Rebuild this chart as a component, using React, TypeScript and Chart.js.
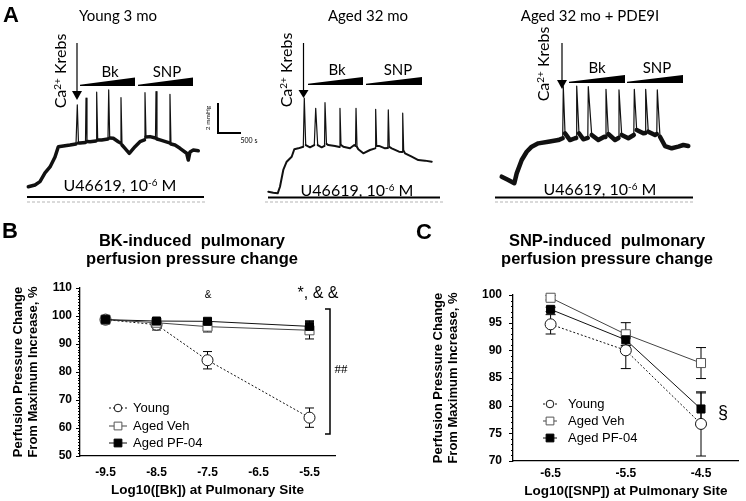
import React, { useEffect, useRef } from "react";
import { Chart, registerables } from "chart.js";

Chart.register(...registerables);

const SANS = "Arial, 'Liberation Sans', Helvetica, sans-serif";
const TRACE_FONT = "Lato, 'Open Sans', sans-serif";

// ---------- Panel A: perfusion pressure traces (time in s, pressure above start in mmHg) ----------
const youngTime = [7, 159, 272, 386, 500, 613, 688, 801, 953, 1090, 1119, 1146, 1180, 1305, 1317, 1339, 1407, 1544, 1559, 1582, 1673, 1816, 1832, 1855, 1936, 2050, 2100, 2111, 2134, 2202, 2300, 2429, 2542, 2644, 2656, 2679, 2769, 2894, 2906, 2928, 2996, 3212, 3223, 3246, 3337, 3450, 3602, 3639, 3678, 3753, 3866];
const youngPressure = [0.35, 0.47, 0.69, 1.27, 1.67, 2.33, 3.02, 3.07, 3.13, 3.2, 5.8, 3.27, 3.27, 3.3, 6.25, 3.37, 3.35, 3.4, 6.65, 3.47, 3.47, 3.53, 6.8, 3.6, 3.58, 3.35, 3.27, 6.29, 3.13, 2.91, 2.58, 3.02, 3.35, 3.47, 6.62, 3.67, 3.69, 3.6, 6.69, 3.53, 3.47, 3.27, 6.51, 3.2, 3.13, 2.91, 2.58, 2.13, 2.67, 2.8, 2.75];

const agedTime = [7, 120, 220, 272, 347, 424, 538, 597, 688, 801, 824, 856, 953, 1051, 1083, 1128, 1219, 1283, 1294, 1328, 1369, 1521, 1623, 1634, 1657, 1709, 1861, 1959, 1987, 1998, 2021, 2050, 2163, 2315, 2433, 2444, 2467, 2520, 2656, 2720, 2731, 2754, 2808, 2974, 3046, 3058, 3080, 3110, 3262, 3412, 3564, 3716];
const agedPressure = [0.22, 0.15, 0.11, 0.55, 1.67, 2.22, 2.55, 3.05, 3.11, 3.22, 6.45, 3.33, 3.18, 3.33, 5.78, 3.33, 3.18, 3.27, 6.15, 3.4, 3.33, 3.27, 3.2, 5.78, 3.33, 3.22, 3.11, 3.33, 3.27, 5.78, 3.2, 3.05, 2.78, 3.0, 3.11, 5.71, 3.27, 3.27, 3.11, 3.13, 5.67, 3.2, 3.11, 2.89, 2.87, 5.45, 2.93, 2.78, 2.55, 2.33, 2.29, 2.22];

const pdeTime = [39, 188, 325, 379, 493, 606, 720, 869, 1096, 1323, 1423, 1437, 1476, 1589, 1703, 1730, 1741, 1793, 1891, 1993, 2004, 2082, 2231, 2368, 2395, 2406, 2459, 2611, 2690, 2701, 2763, 2913, 3037, 3049, 3103, 3253, 3296, 3307, 3366, 3519, 3559, 3571, 3632, 3746, 3898, 4047, 4161, 4274];
const pdePressure = [0.89, 0.67, 0.45, 1.11, 2.0, 2.55, 2.89, 3.11, 3.22, 3.33, 3.45, 6.89, 3.78, 3.33, 3.45, 3.47, 6.93, 3.78, 3.38, 3.47, 6.89, 3.67, 3.33, 3.55, 3.53, 6.71, 3.73, 3.33, 3.47, 6.67, 3.67, 3.45, 3.67, 6.71, 4.0, 3.78, 3.8, 6.71, 3.89, 3.67, 3.73, 6.67, 3.55, 2.93, 2.78, 2.89, 3.0, 2.93];

// ---------- Panel B: BK dose response ----------
const bkDoses = [-9.5, -8.5, -7.5, -5.5];
const bkTicks = [-9.5, -8.5, -7.5, -6.5, -5.5];
const bkYoung = [98.7, 96.9, 84.2, 63.7];
const bkYoungErr = [0, 1.9, 3.1, 3.45];
const bkAgedVeh = [98.7, 97.6, 96.2, 94.9];
const bkAgedVehErr = [0, 1.6, 1.9, 3.1];
const bkAgedPF = [98.7, 98.2, 98.1, 96.3];
const bkAgedPFErr = [0, 0.8, 1.0, 2.0];

// ---------- Panel C: SNP dose response ----------
const snpDoses = [-6.5, -5.5, -4.5];
const snpTicks = [-6.5, -5.5, -4.5];
const snpYoung = [94.7, 90.0, 76.7];
const snpYoungErr = [1.75, 3.3, 5.8];
const snpAgedVeh = [99.5, 92.9, 87.7];
const snpAgedVehErr = [0.4, 2.1, 2.8];
const snpAgedPF = [97.4, 91.9, 79.4];
const snpAgedPFErr = [0.4, 1.0, 2.9];

const seriesNames = ["Young", "Aged Veh", "Aged PF-04"];
const yAxisTitle = ["Perfusion Pressure Change", "From Maximum Increase, %"];

const seriesStyles = [
  { color: "#111", dash: [2, 2], pointStyle: "circle", radius: 5.5, fill: "#fff", pointBorder: "#111", legendR: 3.8 },
  { color: "#444", dash: [] as number[], pointStyle: "rect", radius: 6.4, fill: "#fff", pointBorder: "#555", legendR: 5.5 },
  { color: "#111", dash: [] as number[], pointStyle: "rect", radius: 5.7, fill: "#000", pointBorder: "#000", legendR: 5.5 },
];

type Decor = {
  arrowX: number;
  arrowTop: number;
  headTop: number;
  headBottom: number;
  wedges: number[][];
  base: number[];
  dash: number[];
  scaleBar?: number[];
};

type TraceProps = {
  left: number;
  width: number;
  pad: { left: number; right: number; top: number; bottom: number };
  tMax: number;
  pMax: number;
  time: number[];
  pressure: number[];
  lineWidth: number;
  decor: Decor;
};

function TraceChart(props: TraceProps) {
  const ref = useRef<HTMLCanvasElement>(null);
  useEffect(() => {
    const { left, decor } = props;
    const decorPlugin = {
      id: "traceDecor",
      afterDraw(chart: any) {
        const ctx = chart.ctx as CanvasRenderingContext2D;
        ctx.save();
        ctx.translate(-left, 0);
        ctx.fillStyle = "#000";
        ctx.strokeStyle = "#000";
        ctx.setLineDash([]);
        ctx.lineJoin = "miter";
        // arrow (Ca2+ Krebs)
        ctx.lineWidth = 1.2;
        ctx.beginPath();
        ctx.moveTo(decor.arrowX, decor.arrowTop);
        ctx.lineTo(decor.arrowX, decor.headTop);
        ctx.stroke();
        ctx.beginPath();
        ctx.moveTo(decor.arrowX - 5, decor.headTop);
        ctx.lineTo(decor.arrowX + 5, decor.headTop);
        ctx.lineTo(decor.arrowX, decor.headBottom);
        ctx.closePath();
        ctx.fill();
        // dose wedges
        for (const w of decor.wedges) {
          const [x0, x1, yb, yt] = w;
          ctx.beginPath();
          ctx.moveTo(x0, yb - 1.3);
          ctx.lineTo(x1, yt);
          ctx.lineTo(x1, yb);
          ctx.lineTo(x0, yb);
          ctx.closePath();
          ctx.fill();
        }
        // U46619 baseline bar
        ctx.lineWidth = 1.8;
        ctx.beginPath();
        ctx.moveTo(decor.base[0], decor.base[2]);
        ctx.lineTo(decor.base[1], decor.base[2]);
        ctx.stroke();
        // dashed grey line
        ctx.strokeStyle = "#b5b5b5";
        ctx.lineWidth = 1;
        ctx.setLineDash([3, 2]);
        ctx.beginPath();
        ctx.moveTo(decor.dash[0], decor.dash[2]);
        ctx.lineTo(decor.dash[1], decor.dash[2]);
        ctx.stroke();
        ctx.setLineDash([]);
        // scale bar
        if (decor.scaleBar) {
          const [sx, sy0, sy1, sx1] = decor.scaleBar;
          ctx.strokeStyle = "#000";
          ctx.lineWidth = 2;
          ctx.beginPath();
          ctx.moveTo(sx, sy0);
          ctx.lineTo(sx, sy1);
          ctx.lineTo(sx1, sy1);
          ctx.stroke();
        }
        ctx.restore();
      },
    };
    const thick = props.lineWidth;
    const chart = new Chart(ref.current as HTMLCanvasElement, {
      type: "line",
      data: {
        datasets: [
          {
            data: props.time.map((t, i) => ({ x: t, y: props.pressure[i] })),
            borderColor: "#111",
            borderWidth: thick,
            pointRadius: 0,
            tension: 0,
            borderJoinStyle: "round",
            borderCapStyle: "round",
            clip: false,
            segment: {
              borderWidth: (c: any) => {
                const dy = Math.abs(c.p1.parsed.y - c.p0.parsed.y);
                const dt = Math.abs(c.p1.parsed.x - c.p0.parsed.x) || 1;
                return dy / dt > 0.02 ? 1.2 : thick;
              },
            },
          } as any,
        ],
      },
      options: {
        responsive: false,
        animation: false,
        events: [],
        layout: { padding: props.pad },
        plugins: { legend: { display: false }, tooltip: { enabled: false } },
        scales: {
          x: { type: "linear", display: false, min: 0, max: props.tMax },
          y: { type: "linear", display: false, min: 0, max: props.pMax },
        },
      },
      plugins: [decorPlugin],
    });
    return () => chart.destroy();
  }, []);
  return (
    <canvas
      ref={ref}
      width={props.width}
      height={210}
      style={{ position: "absolute", left: props.left, top: 0, width: props.width, height: 210 }}
    />
  );
}

type DoseProps = {
  left: number;
  top: number;
  width: number;
  height: number;
  pad: { left: number; right: number; top: number; bottom: number };
  yAxisW: number;
  xAxisH: number;
  xMin: number;
  xMax: number;
  xTicks: number[];
  yMin: number;
  yMax: number;
  yStep: number;
  minorStep: number;
  doses: number[];
  values: number[][];
  errors: number[][];
  yTitlePad: number;
  yTickPad: number;
  xTickPad: number;
  xTitle: string;
  xTitlePadBottom: number;
  capHalf: number;
  legend: { lx0: number; lx1: number; mx: number; tx: number; ys: number[] };
  bracket?: number[];
};

function DoseChart(props: DoseProps) {
  const ref = useRef<HTMLCanvasElement>(null);
  useEffect(() => {
    const errorPlugin = {
      id: "errorBars",
      beforeDatasetsDraw(chart: any) {
        const ctx = chart.ctx as CanvasRenderingContext2D;
        const ys = chart.scales.y;
        ctx.save();
        ctx.strokeStyle = "#000";
        ctx.lineWidth = 1;
        ctx.setLineDash([]);
        props.values.forEach((vals, i) => {
          const meta = chart.getDatasetMeta(i);
          vals.forEach((v, j) => {
            const e = props.errors[i][j];
            if (!e) return;
            const x = meta.data[j].x;
            const yt = ys.getPixelForValue(v + e);
            const yb = ys.getPixelForValue(v - e);
            ctx.beginPath();
            ctx.moveTo(x, yt);
            ctx.lineTo(x, yb);
            ctx.moveTo(x - props.capHalf, yt);
            ctx.lineTo(x + props.capHalf, yt);
            ctx.moveTo(x - props.capHalf, yb);
            ctx.lineTo(x + props.capHalf, yb);
            ctx.stroke();
          });
        });
        ctx.restore();
      },
    };
    const decorPlugin = {
      id: "doseDecor",
      afterDraw(chart: any) {
        const ctx = chart.ctx as CanvasRenderingContext2D;
        const ys = chart.scales.y;
        const area = chart.chartArea;
        ctx.save();
        ctx.strokeStyle = "#000";
        ctx.lineWidth = 1;
        // minor ticks on the y axis
        for (let v = props.yMin; v <= props.yMax + 1e-6; v += props.minorStep) {
          const y = Math.round(ys.getPixelForValue(v)) + 0.5;
          const major = Math.abs((v - props.yMin) / props.yStep - Math.round((v - props.yMin) / props.yStep)) < 1e-6;
          ctx.beginPath();
          ctx.moveTo(area.left - (major ? 4 : 2), y);
          ctx.lineTo(area.left, y);
          ctx.stroke();
        }
        // legend
        const lg = props.legend;
        seriesStyles.forEach((s, i) => {
          const y = lg.ys[i];
          ctx.strokeStyle = s.color;
          ctx.lineWidth = 1;
          ctx.setLineDash(s.dash);
          ctx.beginPath();
          ctx.moveTo(lg.lx0, y);
          ctx.lineTo(lg.lx1, y);
          ctx.stroke();
          ctx.setLineDash([]);
          ctx.fillStyle = s.fill;
          ctx.strokeStyle = s.pointBorder;
          ctx.beginPath();
          if (s.pointStyle === "circle") {
            ctx.arc(lg.mx, y, s.legendR, 0, Math.PI * 2);
          } else {
            const h = s.legendR * Math.SQRT1_2;
            ctx.rect(lg.mx - h, y - h, 2 * h, 2 * h);
          }
          ctx.fill();
          ctx.stroke();
          ctx.fillStyle = "#000";
          ctx.font = `13px ${SANS}`;
          ctx.textBaseline = "middle";
          ctx.textAlign = "left";
          ctx.fillText(seriesNames[i], lg.tx, y + 0.5);
        });
        // significance bracket
        if (props.bracket) {
          const [bx, by0, by1] = props.bracket;
          ctx.strokeStyle = "#000";
          ctx.lineWidth = 1.5;
          ctx.beginPath();
          ctx.moveTo(bx - 5, by0);
          ctx.lineTo(bx, by0);
          ctx.lineTo(bx, by1);
          ctx.lineTo(bx - 5, by1);
          ctx.stroke();
        }
        ctx.restore();
      },
    };
    const chart = new Chart(ref.current as HTMLCanvasElement, {
      type: "line",
      data: {
        datasets: props.values.map((vals, i) => {
          const s = seriesStyles[i];
          return {
            label: seriesNames[i],
            data: props.doses.map((d, j) => ({ x: d, y: vals[j] })),
            borderColor: s.color,
            borderWidth: 1,
            borderDash: s.dash,
            pointStyle: s.pointStyle,
            pointRadius: s.radius,
            pointBackgroundColor: s.fill,
            pointBorderColor: s.pointBorder,
            pointBorderWidth: 1,
            tension: 0,
            clip: false,
            order: 2 - i,
          } as any;
        }),
      },
      options: {
        responsive: false,
        animation: false,
        events: [],
        layout: { padding: props.pad },
        plugins: { legend: { display: false }, tooltip: { enabled: false }, title: { display: false } },
        scales: {
          x: {
            type: "linear",
            min: props.xMin,
            max: props.xMax,
            grid: { display: false, drawTicks: false },
            border: { display: true, color: "#000", width: 1.3 },
            afterBuildTicks: (s: any) => {
              s.ticks = props.xTicks.map((v) => ({ value: v }));
            },
            afterFit: (s: any) => {
              s.height = props.xAxisH;
            },
            ticks: {
              autoSkip: false,
              maxRotation: 0,
              padding: props.xTickPad,
              color: "#000",
              font: { family: SANS, size: 12, weight: "bold" },
              callback: (v: any) => Number(v).toFixed(1),
            },
            title: {
              display: true,
              text: props.xTitle,
              color: "#000",
              font: { family: SANS, size: 13.5, weight: "bold" },
              padding: { top: 0, bottom: props.xTitlePadBottom },
            },
          },
          y: {
            type: "linear",
            min: props.yMin,
            max: props.yMax,
            grid: { display: false, drawTicks: false },
            border: { display: true, color: "#000", width: 1.3 },
            afterFit: (s: any) => {
              s.width = props.yAxisW;
            },
            ticks: {
              stepSize: props.yStep,
              padding: props.yTickPad,
              color: "#000",
              font: { family: SANS, size: 12, weight: "bold" },
            },
            title: {
              display: true,
              text: yAxisTitle,
              color: "#000",
              font: { family: SANS, size: 13, weight: "bold", lineHeight: 1.15 },
              padding: { top: props.yTitlePad, bottom: 0 },
            },
          },
        },
      } as any,
      plugins: [errorPlugin, decorPlugin],
    });
    return () => chart.destroy();
  }, []);
  return (
    <canvas
      ref={ref}
      width={props.width}
      height={props.height}
      style={{ position: "absolute", left: props.left, top: props.top, width: props.width, height: props.height }}
    />
  );
}

type LabelProps = {
  x: number;
  y: number;
  size: number;
  children: React.ReactNode;
  weight?: string;
  family?: string;
  rotate?: number;
};

function Label({ x, y, size, children, weight = "normal", family = SANS, rotate = 0 }: LabelProps) {
  return (
    <div
      style={{
        position: "absolute",
        left: x,
        top: y,
        transform: `translate(-50%, -50%) rotate(${rotate}deg)`,
        fontSize: size,
        fontWeight: weight as any,
        fontFamily: family,
        lineHeight: 1,
        whiteSpace: "nowrap",
        color: "#000",
      }}
    >
      {children}
    </div>
  );
}

const Sup = ({ children }: { children: React.ReactNode }) => (
  <span style={{ fontSize: "0.62em", verticalAlign: "0.55em", lineHeight: 0 }}>{children}</span>
);

const Krebs = () => (
  <>
    Ca<Sup>2+</Sup> Krebs
  </>
);
const U46619 = () => (
  <>
    U46619, 10<Sup>-6</Sup> M
  </>
);

export default function App() {
  return (
    <div style={{ position: "absolute", left: 0, top: 0, width: 746, height: 501, background: "#fff", overflow: "hidden" }}>
      <TraceChart
        left={0}
        width={250}
        pad={{ left: 28, right: 51, top: 85, bottom: 18 }}
        tMax={3882}
        pMax={7.13}
        time={youngTime}
        pressure={youngPressure}
        lineWidth={3.5}
        decor={{
          arrowX: 77,
          arrowTop: 43,
          headTop: 91,
          headBottom: 100,
          wedges: [
            [80, 135, 86, 77.5],
            [138, 193, 86, 77.5],
          ],
          base: [27, 204, 197],
          dash: [27, 207, 202],
          scaleBar: [218, 103, 133, 241],
        }}
      />
      <TraceChart
        left={250}
        width={240}
        pad={{ left: 18, right: 55, top: 85, bottom: 15 }}
        tMax={3791}
        pMax={7.33}
        time={agedTime}
        pressure={agedPressure}
        lineWidth={2}
        decor={{
          arrowX: 303.5,
          arrowTop: 43,
          headTop: 90,
          headBottom: 98,
          wedges: [
            [308, 363, 85, 77],
            [366, 422, 85, 77],
          ],
          base: [268, 440, 197.5],
          dash: [265, 445, 202],
        }}
      />
      <TraceChart
        left={490}
        width={256}
        pad={{ left: 10, right: 56, top: 85, bottom: 20 }}
        tMax={4313}
        pMax={7.0}
        time={pdeTime}
        pressure={pdePressure}
        lineWidth={4.5}
        decor={{
          arrowX: 562,
          arrowTop: 43,
          headTop: 80,
          headBottom: 89,
          wedges: [
            [569, 625, 83, 75],
            [627, 683, 83, 75],
          ],
          base: [495, 693, 197.5],
          dash: [495, 695, 202],
        }}
      />

      <DoseChart
        left={0}
        top={215}
        width={380}
        height={286}
        pad={{ left: 0, right: 45, top: 73, bottom: 0 }}
        yAxisW={80}
        xAxisH={45}
        xMin={-10}
        xMax={-5}
        xTicks={bkTicks}
        yMin={50}
        yMax={110}
        yStep={10}
        minorStep={1}
        doses={bkDoses}
        values={[bkYoung, bkAgedVeh, bkAgedPF]}
        errors={[bkYoungErr, bkAgedVehErr, bkAgedPFErr]}
        yTitlePad={10.5}
        yTickPad={8}
        xTickPad={9}
        xTitle="Log10([Bk]) at Pulmonary Site"
        xTitlePadBottom={3}
        capHalf={4.5}
        legend={{ lx0: 109, lx1: 127, mx: 118, tx: 133, ys: [193, 211, 228] }}
        bracket={[330, 94, 219]}
      />
      <DoseChart
        left={380}
        top={215}
        width={366}
        height={286}
        pad={{ left: 0, right: 2, top: 80, bottom: 0 }}
        yAxisW={133}
        xAxisH={40}
        xMin={-7}
        xMax={-4}
        xTicks={snpTicks}
        yMin={70}
        yMax={100}
        yStep={5}
        minorStep={1}
        doses={snpDoses}
        values={[snpYoung, snpAgedVeh, snpAgedPF]}
        errors={[snpYoungErr, snpAgedVehErr, snpAgedPFErr]}
        yTitlePad={50.5}
        yTickPad={11}
        xTickPad={5}
        xTitle="Log10([SNP]) at Pulmonary Site"
        xTitlePadBottom={2}
        capHalf={5}
        legend={{ lx0: 163, lx1: 177, mx: 170, tx: 188, ys: [189, 206, 223] }}
      />

      {/* Panel A labels */}
      <Label x={11} y={15} size={22} weight="bold">A</Label>
      <Label x={118} y={15} size={15} family={TRACE_FONT}>Young 3 mo</Label>
      <Label x={368} y={15} size={15} family={TRACE_FONT}>Aged 32 mo</Label>
      <Label x={590} y={15} size={15} family={TRACE_FONT}>Aged 32 mo + PDE9I</Label>
      <Label x={60} y={71} size={16} family={TRACE_FONT} rotate={-90}><Krebs /></Label>
      <Label x={286} y={70} size={16} family={TRACE_FONT} rotate={-90}><Krebs /></Label>
      <Label x={543} y={64} size={16} family={TRACE_FONT} rotate={-90}><Krebs /></Label>
      <Label x={110} y={71} size={15} family={TRACE_FONT}>Bk</Label>
      <Label x={167} y={71} size={15} family={TRACE_FONT}>SNP</Label>
      <Label x={337} y={69} size={15} family={TRACE_FONT}>Bk</Label>
      <Label x={398} y={69} size={15} family={TRACE_FONT}>SNP</Label>
      <Label x={597} y={67} size={15} family={TRACE_FONT}>Bk</Label>
      <Label x={657} y={67} size={15} family={TRACE_FONT}>SNP</Label>
      <Label x={208} y={118} size={6.5} family={TRACE_FONT} rotate={-90}>2 mmHg</Label>
      <Label x={249} y={140} size={7} family={TRACE_FONT}>500 s</Label>
      <Label x={120} y={185} size={16} family={TRACE_FONT}><U46619 /></Label>
      <Label x={357} y={190} size={16} family={TRACE_FONT}><U46619 /></Label>
      <Label x={600} y={189} size={16} family={TRACE_FONT}><U46619 /></Label>

      {/* Panel B labels */}
      <Label x={10} y={231} size={22} weight="bold">B</Label>
      <Label x={192} y={240} size={16.5} weight="bold">BK-induced&nbsp; pulmonary</Label>
      <Label x={192} y={258} size={16.5} weight="bold">perfusion pressure change</Label>
      <Label x={208} y={295} size={10}>&amp;</Label>
      <Label x={318} y={293} size={16}>*, &amp; &amp;</Label>
      <Label x={341} y={368} size={13} family="'Liberation Serif', 'DejaVu Serif', serif">##</Label>

      {/* Panel C labels */}
      <Label x={424} y={232} size={22} weight="bold">C</Label>
      <Label x={607} y={240} size={16.5} weight="bold">SNP-induced&nbsp; pulmonary</Label>
      <Label x={607} y={258} size={16.5} weight="bold">perfusion pressure change</Label>
      <Label x={723} y={412} size={18}>§</Label>
    </div>
  );
}
